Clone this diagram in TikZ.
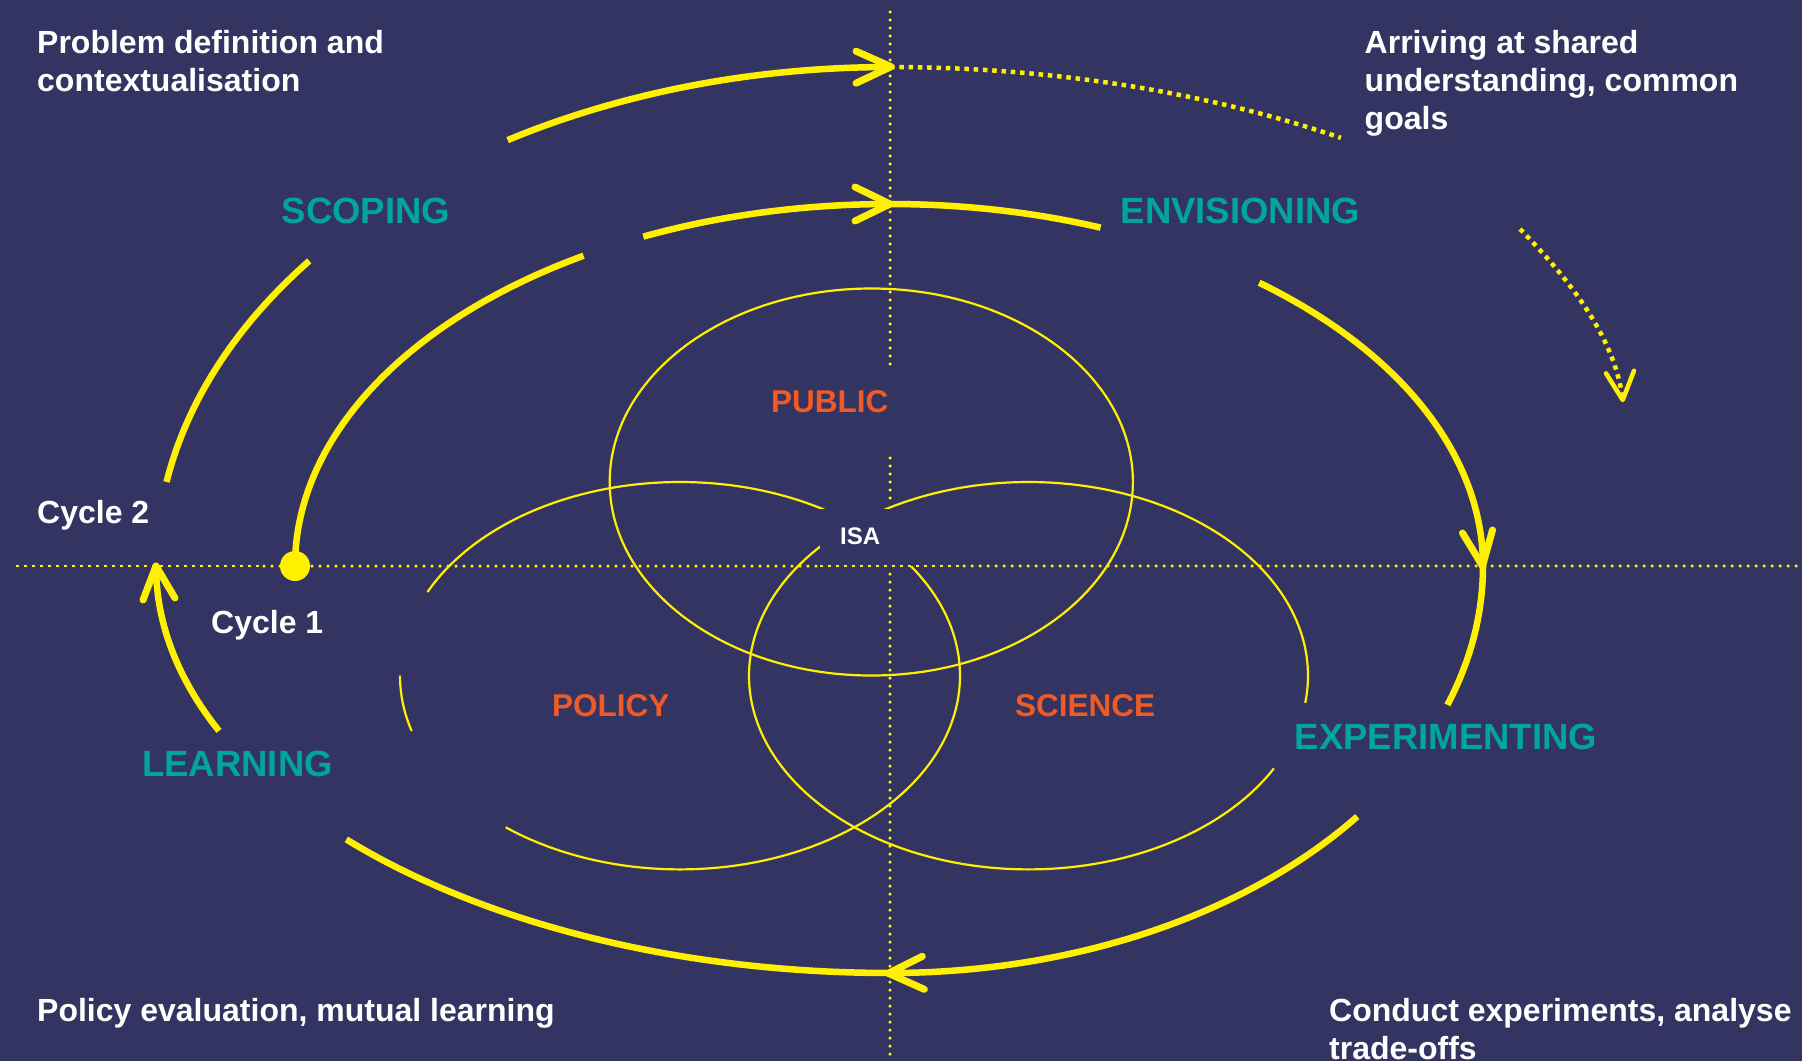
\documentclass[tikz,border=0pt]{standalone}
\usepackage{fontspec}
\setmainfont{Liberation Sans}
\definecolor{bg}{RGB}{52,52,98}
\definecolor{yel}{RGB}{255,240,0}
\definecolor{tealc}{RGB}{0,166,153}
\definecolor{orng}{RGB}{241,90,36}
\begin{document}
\begin{tikzpicture}[x=1pt,y=-1pt,
  spiral/.style={draw=yel,line width=6.5pt,line cap=butt},
  chev/.style={draw=yel,line width=7pt,line cap=round,line join=round},
  chevthin/.style={draw=yel,line width=4.5pt,line cap=round,line join=round},
  ring/.style={draw=yel,line width=2.2pt},
  axisdots/.style={draw=yel,line width=3.5pt,line cap=round,dash pattern=on 0pt off 8pt},
  axisthin/.style={draw=yel,line width=1.5pt,dash pattern=on 3pt off 5pt},
  sqdots/.style={draw=yel,line width=4.5pt,line cap=butt,dash pattern=on 4.5pt off 4.8pt},
  whitetxt/.style={text=white,font=\bfseries\fontsize{32}{38}\selectfont,inner sep=0pt,anchor=base west},
  phase/.style={text=tealc,font=\bfseries\fontsize{36.5}{40}\selectfont,inner sep=0pt,anchor=base west},
  actor/.style={text=orng,font=\bfseries\fontsize{31.5}{36}\selectfont,inner sep=0pt,anchor=base west},
  isatxt/.style={text=white,font=\bfseries\fontsize{24}{28}\selectfont,inner sep=0pt,anchor=base west},
]
\fill[bg] (0,0) rectangle (1802,1061);
\useasboundingbox (0,0) rectangle (1802,1061);
\clip (0,0) rectangle (1802,1061);

% ---- three ellipses ----
\draw[ring] (871.3,482) ellipse[x radius=261.6pt, y radius=193.5pt];
\draw[ring] plot[variable=\t,domain=-154.4:128.5,samples=140,smooth] ({680+280*cos(\t)},{675.7+193.7*sin(\t)});
\draw[ring] plot[variable=\t,domain=163.4:180,samples=12,smooth] ({680+280*cos(\t)},{675.7+193.7*sin(\t)});
\draw[ring] plot[variable=\t,domain=28.6:368.05,samples=160,smooth] ({1028.5+279.5*cos(\t)},{675.7+193.7*sin(\t)});

% ---- axes ----
\draw[axisdots] (890,12) -- (890,368);
\draw[axisdots] (890,458) -- (890,503);
\draw[axisdots] (890,574) -- (890,1061);
\draw[axisthin] (16,566) -- (261,566);
\draw[axisdots] (264,566) -- (817,566);
\draw[axisdots] (964,566) -- (1796,566);

% ---- ISA label box ----
\fill[bg] (820,509) rectangle (912,566);
\draw[axisthin] (820,566) -- (960,566);
\node[isatxt] (isa) at (840,544) {ISA};

% ---- spiral ----
\coordinate (start) at (295,566);
\coordinate (tipA) at (891,66.7);
\coordinate (tipB) at (890,204);
\coordinate (tipC) at (1482.5,566);
\coordinate (tipD) at (888.3,973.3);
\coordinate (tipE) at (156,566);
\coordinate (tipF) at (1622.7,400);

% Q1
\draw[spiral] plot[variable=\t,domain=180:239,samples=40,smooth] ({890+595*cos(\t)},{566+362*sin(\t)});
\draw[spiral] plot[variable=\t,domain=245.5:270,samples=20,smooth] ({890+595*cos(\t)},{566+362*sin(\t)});
% Q2
\draw[spiral] plot[variable=\t,domain=270:290.8,samples=20,smooth] ({890+593*cos(\t)},{566+362*sin(\t)});
\draw[spiral] plot[variable=\t,domain=308.5:360,samples=40,smooth] ({890+593*cos(\t)},{566+362*sin(\t)});
% Q3
\draw[spiral] plot[variable=\t,domain=0:19.95,samples=20,smooth] ({890+593*cos(\t)},{566+407*sin(\t)});
\draw[spiral] plot[variable=\t,domain=38:90,samples=40,smooth] ({890+593*cos(\t)},{566+407*sin(\t)});
% Q4
\draw[spiral] plot[variable=\t,domain=90:137.8,samples=40,smooth] ({890+734*cos(\t)},{566+407*sin(\t)});
\draw[spiral] plot[variable=\t,domain=156.1:180,samples=20,smooth] ({890+734*cos(\t)},{566+407*sin(\t)});
% Q5
\draw[spiral] plot[variable=\t,domain=189.7:217.7,samples=30,smooth] ({890+734*cos(\t)},{566+499*sin(\t)});
\draw[spiral] plot[variable=\t,domain=238.6:270,samples=30,smooth] ({890+734*cos(\t)},{566+499*sin(\t)});
% Q6 dotted
\draw[sqdots] plot[variable=\t,domain=270:300.9,samples=40,smooth] ({890+878*cos(\t)},{566+499*sin(\t)});
% dotted arrow
\draw[sqdots] (1520,229) .. controls (1565,275) and (1615,335) .. (tipF);

% start dot
\fill[yel] (start) circle[radius=15pt];

% arrowheads
\draw[chev] ([shift={(-35,-15.5)}]tipA) -- (tipA) -- ([shift={(-35,16.5)}]tipA);
\draw[chev] ([shift={(-35,-17)}]tipB) -- (tipB) -- ([shift={(-35,17)}]tipB);
\draw[chev] ([shift={(-20,-33)}]tipC) -- (tipC) -- ([shift={(10,-36)}]tipC);
\draw[chev] ([shift={(34,-17)}]tipD) -- (tipD) -- ([shift={(36,16)}]tipD);
\draw[chev] ([shift={(-13,34)}]tipE) -- (tipE) -- ([shift={(19,32)}]tipE);
\draw[chevthin] ([shift={(-16.7,-26.7)}]tipF) -- (tipF) -- ([shift={(11.3,-29.3)}]tipF);

% ---- texts ----
\node[whitetxt] (pd1) at (37,53) {Problem definition and};
\node[whitetxt] (pd2) at (37,91) {contextualisation};
\node[whitetxt] (ar1) at (1364.5,53) {Arriving at shared};
\node[whitetxt] (ar2) at (1364.5,91) {understanding, common};
\node[whitetxt] (ar3) at (1364.5,129) {goals};
\node[whitetxt] (cy2) at (37,523) {Cycle 2};
\node[whitetxt] (cy1) at (211,633) {Cycle 1};
\node[whitetxt] (pe) at (37,1021) {Policy evaluation, mutual learning};
\node[whitetxt] (ce1) at (1329,1021) {Conduct experiments, analyse};
\node[whitetxt] (ce2) at (1329,1059) {trade-offs};

\node[phase] (scoping) at (281.5,223) {SCOPING};
\node[phase] (envis) at (1120.5,223) {ENVISIONING};
\node[phase] (exper) at (1294.5,749.5) {EXPERIMENTING};
\node[phase] (learn) at (142,776.5) {LEARNING};

\node[actor] (public) at (771,412.5) {PUBLIC};
\node[actor] (policy) at (552,716.6) {POLICY};
\node[actor] (science) at (1015,716.6) {SCIENCE};
\end{tikzpicture}
\end{document}
